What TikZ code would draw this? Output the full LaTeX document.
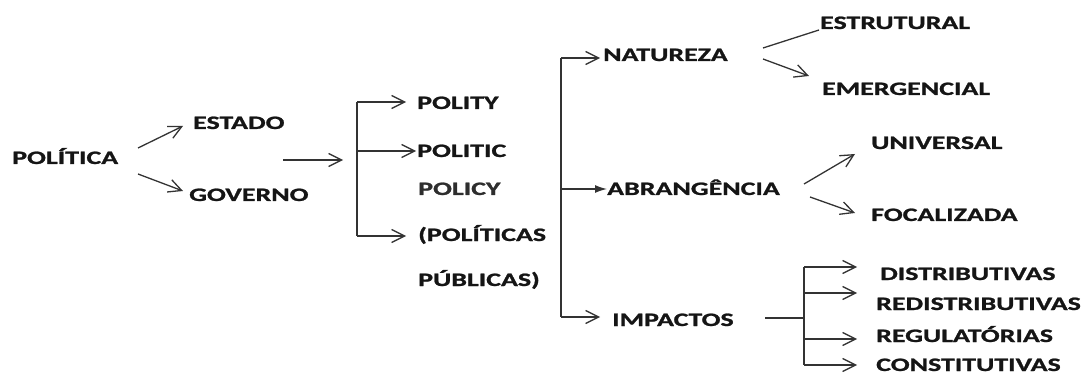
\documentclass[tikz,border=0pt]{standalone}
\usepackage{fontspec}
\newfontfamily\dfont[FakeStretch=1.47,FakeBold=1.2]{Carlito}
\usetikzlibrary{arrows.meta}
\definecolor{ink}{HTML}{151515}
\definecolor{wire}{HTML}{333333}
\begin{document}
\begin{tikzpicture}[x=1pt,y=-1pt,
  lbl/.style={anchor=base west,inner sep=0pt,text=ink,font=\dfont\fontsize{19}{19}\selectfont\bfseries},
  wirel/.style={draw=wire,line width=1.3pt},
  arr/.style={wirel,-{Straight Barb[length=13pt,width=13pt,line width=1.3pt]}},
  farr/.style={wirel,-{Latex[length=12pt,width=8pt]}}]
\useasboundingbox (0,0) rectangle (1091,379);
% text nodes
\node[lbl] (pol) at (12,164) {POLÍTICA};
\node[lbl] (est) at (193,129) {ESTADO};
\node[lbl] (gov) at (189,201) {GOVERNO};
\node[lbl] (polity) at (417,109) {POLITY};
\node[lbl] (politic) at (417,157) {POLITIC};
\node[lbl,text=black!82] (policy) at (418,195) {POLICY};
\node[lbl] (pp1) at (418,241) {(POLÍTICAS};
\node[lbl] (pp2) at (418,286) {PÚBLICAS)};
\node[lbl] (nat) at (603,61) {NATUREZA};
\node[lbl] (abr) at (607,195) {ABRANGÊNCIA};
\node[lbl] (imp) at (612,326) {IMPACTOS};
\node[lbl] (estr) at (820,29) {ESTRUTURAL};
\node[lbl] (emer) at (822,95) {EMERGENCIAL};
\node[lbl] (univ) at (871,149) {UNIVERSAL};
\node[lbl] (foc) at (871,221) {FOCALIZADA};
\node[lbl] (dist) at (880,280) {DISTRIBUTIVAS};
\node[lbl] (redist) at (876,310) {REDISTRIBUTIVAS};
\node[lbl] (regul) at (876,342) {REGULATÓRIAS};
\node[lbl] (const) at (876,371) {CONSTITUTIVAS};
% connector points
\coordinate (a1s) at (138,148); \coordinate (a1e) at (183,126);
\coordinate (a2s) at (138,174); \coordinate (a2e) at (183,191);
\coordinate (a3s) at (283,160); \coordinate (a3e) at (343,160);
\coordinate (b1t) at (357,102); \coordinate (b1m) at (357,151); \coordinate (b1b) at (357,236);
\coordinate (b1te) at (406,102); \coordinate (b1me) at (416,151); \coordinate (b1be) at (406,236);
\coordinate (b2t) at (561,58); \coordinate (b2m) at (561,189); \coordinate (b2b) at (561,317);
\coordinate (b2te) at (600,58); \coordinate (b2me) at (607,189); \coordinate (b2be) at (600,317);
\coordinate (n1s) at (763,48); \coordinate (n1e) at (819,30);
\coordinate (n2s) at (763,59); \coordinate (n2e) at (809,76);
\coordinate (u1s) at (804,184); \coordinate (u1e) at (855,154);
\coordinate (u2s) at (810,197); \coordinate (u2e) at (855,213);
\coordinate (i0) at (765,318); \coordinate (i1) at (804,318);
\coordinate (c1) at (804,267); \coordinate (c2) at (804,293); \coordinate (c3) at (804,339); \coordinate (c4) at (804,365);
\coordinate (c1e) at (857,267); \coordinate (c2e) at (857,293); \coordinate (c3e) at (857,339); \coordinate (c4e) at (857,365);
% connectors
\draw[arr] (a1s) -- (a1e);
\draw[arr] (a2s) -- (a2e);
\draw[arr] (a3s) -- (a3e);
\draw[wirel] (b1t) -- (b1b);
\draw[arr] (b1t) -- (b1te);
\draw[arr] (b1m) -- (b1me);
\draw[arr] (b1b) -- (b1be);
\draw[wirel] (b2t) -- (b2b);
\draw[arr] (b2t) -- (b2te);
\draw[farr] (b2m) -- (b2me);
\draw[arr] (b2b) -- (b2be);
\draw[wirel] (n1s) -- (n1e);
\draw[arr] (n2s) -- (n2e);
\draw[arr] (u1s) -- (u1e);
\draw[arr] (u2s) -- (u2e);
\draw[wirel] (i0) -- (i1);
\draw[wirel] (c1) -- (c4);
\draw[arr] (c1) -- (c1e);
\draw[arr] (c2) -- (c2e);
\draw[arr] (c3) -- (c3e);
\draw[arr] (c4) -- (c4e);
\end{tikzpicture}
\end{document}
